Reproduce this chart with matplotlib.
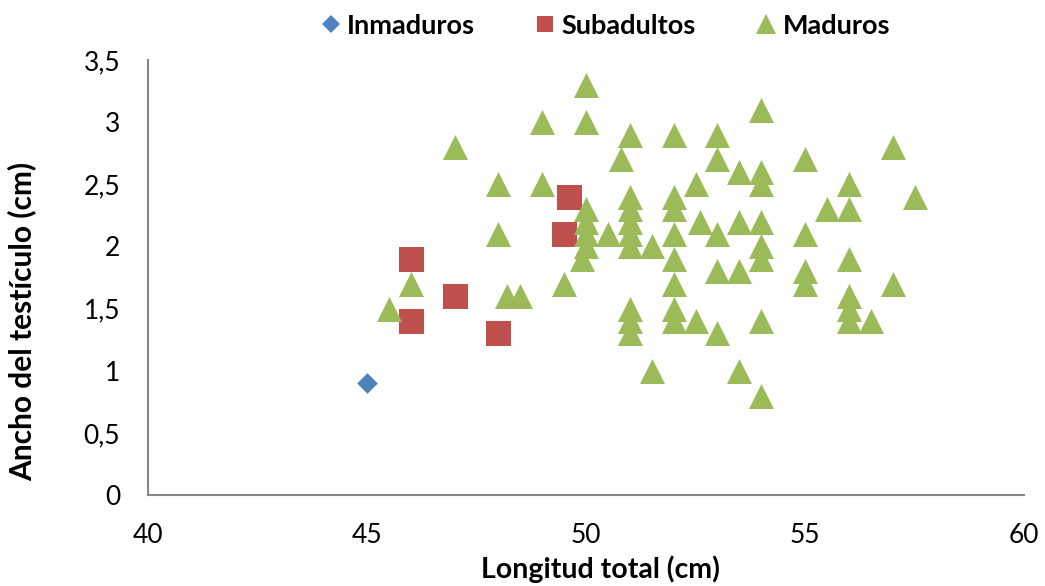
import matplotlib
matplotlib.use("Agg")
from matplotlib import pyplot as plt
from matplotlib.lines import Line2D

plt.rcParams['font.family'] = ['Lato', 'DejaVu Sans']

# Datos (longitud total, ancho del testiculo)
inmaduros_x = [45]
inmaduros_y = [0.9]

subadultos_x = [46, 46, 47, 48, 49.5, 49.6]
subadultos_y = [1.9, 1.4, 1.6, 1.3, 2.1, 2.4]

maduros_x = [45.5, 46, 47, 48, 48, 48.2, 48.5, 49, 49, 49.5, 49.9,
             50, 50, 50, 50, 50, 50, 50.5, 50.8,
             51, 51, 51, 51, 51, 51, 51, 51, 51, 51.5, 51.5,
             52, 52, 52, 52, 52, 52, 52, 52, 52.5, 52.5, 52.6,
             53, 53, 53, 53, 53, 53.5, 53.5, 53.5, 53.5,
             54, 54, 54, 54, 54, 54, 54, 54,
             55, 55, 55, 55, 55.5,
             56, 56, 56, 56, 56, 56, 56.5, 57, 57, 57.5]
maduros_y = [1.5, 1.7, 2.8, 2.5, 2.1, 1.6, 1.6, 3.0, 2.5, 1.7, 1.9,
             3.3, 3.0, 2.3, 2.2, 2.1, 2.0, 2.1, 2.7,
             2.9, 2.4, 2.3, 2.2, 2.1, 2.0, 1.5, 1.4, 1.3, 2.0, 1.0,
             2.9, 2.4, 2.3, 2.1, 1.9, 1.7, 1.5, 1.4, 2.5, 1.4, 2.2,
             2.9, 2.7, 2.1, 1.8, 1.3, 2.6, 2.2, 1.8, 1.0,
             3.1, 2.6, 2.5, 2.2, 2.0, 1.9, 1.4, 0.8,
             2.7, 2.1, 1.8, 1.7, 2.3,
             2.5, 2.3, 1.9, 1.6, 1.5, 1.4, 1.4, 2.8, 1.7, 2.4]

x_ticks = [40, 45, 50, 55, 60]
y_ticks = [0, 0.5, 1, 1.5, 2, 2.5, 3, 3.5]
y_tick_labels = ["0", "0,5", "1", "1,5", "2", "2,5", "3", "3,5"]

azul = '#4F81BD'
rojo = '#C0504D'
verde = '#9BBB59'

# ventana del grafico
fig = plt.figure(figsize=(10.45, 5.86), dpi=100)
ax = fig.add_axes([0.1416, 0.1553, 0.8384, 0.7423])

ax.scatter(inmaduros_x, inmaduros_y, marker='D', s=10.5**2,
           color=azul, linewidths=0)
ax.scatter(subadultos_x, subadultos_y, marker='s', s=18**2,
           color=rojo, linewidths=0)
ax.scatter(maduros_x, maduros_y, marker='^', s=18**2,
           color=verde, linewidths=0)

ax.set_xlim(40, 60)
ax.set_ylim(0, 3.5)
ax.set_xticks(x_ticks)
ax.set_xticklabels([str(t) for t in x_ticks])
ax.set_yticks(y_ticks)
ax.set_yticklabels(y_tick_labels)
ax.tick_params(length=0, labelsize=19, pad=20)

for lado in ['top', 'right']:
    ax.spines[lado].set_visible(False)
for lado in ['left', 'bottom']:
    ax.spines[lado].set_color('#868686')
    ax.spines[lado].set_linewidth(1.5)

ax.set_xlabel("Longitud total (cm)", fontsize=20.5, fontweight='bold')
ax.set_ylabel("Ancho del testículo (cm)", fontsize=21.5, fontweight='bold')
ax.xaxis.set_label_coords(0.516, -0.14)
ax.yaxis.set_label_coords(-0.127, 0.40)

# leyenda arriba
marcas = [
    Line2D([], [], ls='none', marker='D', markersize=9.2, color=azul, mew=0, label='Inmaduros'),
    Line2D([], [], ls='none', marker='s', markersize=12, color=rojo, mew=0, label='Subadultos'),
    Line2D([], [], ls='none', marker='^', markersize=14.4, color=verde, mew=0, label='Maduros'),
]
fig.legend(handles=marcas, loc='center', ncol=3,
           bbox_to_anchor=(0.579, 0.956), frameon=False,
           prop={'size': 19.5, 'weight': 'bold'},
           handlelength=0.8, handletextpad=0.2, columnspacing=2.2)

fig.savefig("out.png", dpi=100)
